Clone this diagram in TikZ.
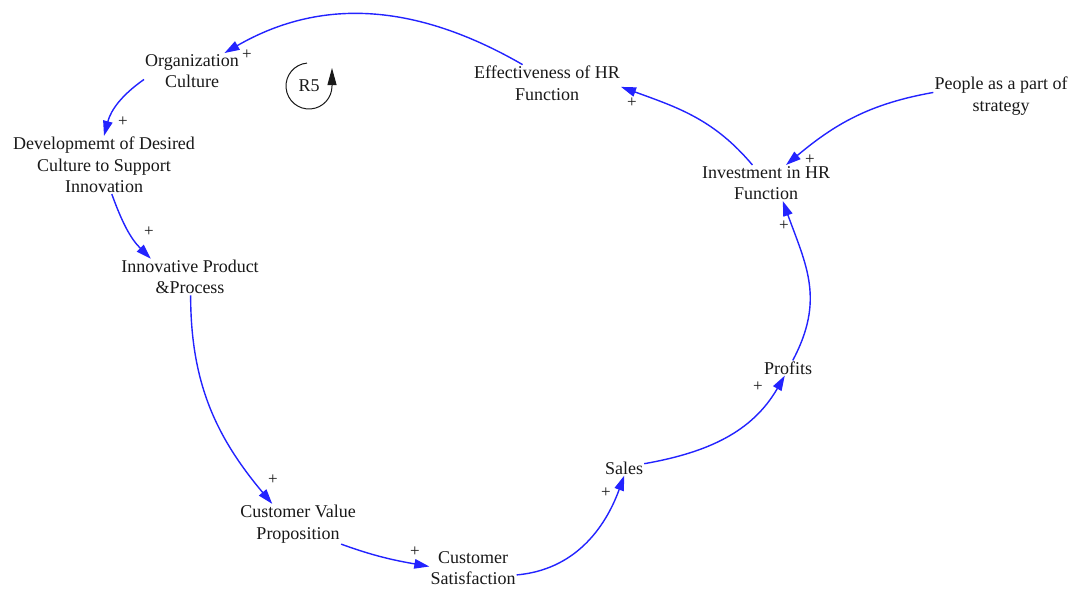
\documentclass[tikz,border=0pt]{standalone}
\usepackage{fontspec}
\setmainfont{Liberation Serif}
\usetikzlibrary{arrows.meta}
\definecolor{linkblue}{RGB}{35,35,255}
\definecolor{inkgray}{RGB}{25,25,25}
\begin{document}
\begin{tikzpicture}[x=1pt,y=1pt,
  var/.style={inner sep=1pt, align=center, text=inkgray,
              font=\fontsize{18}{21.5}\selectfont},
  link/.style={draw=linkblue, line width=1.4pt,
               -{Triangle[length=15pt,width=9.5pt]}},
  polarity/.style={inner sep=0pt, text=inkgray, font=\fontsize{17}{17}\selectfont}]
\useasboundingbox[fill=white] (0,0) rectangle (1081,-590);

% variables
\node[var] (org)   at (192,-71)  {Organization\\Culture};
\node[var] (dev)   at (104,-165) {Developmemt of Desired\\Culture to Support\\Innovation};
\node[var] (inn)   at (190,-277) {Innovative Product\\\&Process};
\node[var] (cvp)   at (298,-524) {Customer Value\\Proposition};
\node[var] (cs)    at (473,-568) {Customer\\Satisfaction};
\node[var] (sales) at (624,-468) {Sales};
\node[var] (prof)  at (788,-368) {Profits};
\node[var] (inv)   at (766,-183) {Investment in HR\\Function};
\node[var] (eff)   at (547,-83)  {Effectiveness of HR\\Function};
\node[var] (ppl)   at (1001,-96) {People as a part of\\strategy};

% causal links
\draw[link] (eff.143)   to[out=150,in=30]  (org.29);
\draw[link] (org.190)   to[out=215,in=75]  (dev.90);
\draw[link] (dev.285)   to[out=290,in=135] (inn.155);
\draw[link] (inn.272)   to[out=270,in=130] (cvp.142);
\draw[link] (cvp.335)   to[out=340,in=170] (cs.178);
\draw[link] (cs.351)    to[out=5,in=250]   (sales.272);
\draw[link] (sales.12)  to[out=10,in=240]  (prof.247);
\draw[link] (prof.58)   to[out=62,in=290,looseness=1.1] (inv.313);
\draw[link] (inv.127)   to[out=130,in=340] (eff.357);
\draw[link] (ppl.177)   to[out=190,in=40]  (inv.42);

% link polarities
\node[polarity] (p1)  at (247,-55)  {+};
\node[polarity] (p2)  at (123,-122) {+};
\node[polarity] (p3)  at (149,-232) {+};
\node[polarity] (p4)  at (273,-480) {+};
\node[polarity] (p5)  at (415,-552) {+};
\node[polarity] (p6)  at (606,-493) {+};
\node[polarity] (p7)  at (758,-387) {+};
\node[polarity] (p8)  at (784,-226) {+};
\node[polarity] (p9)  at (632,-103) {+};
\node[polarity] (p10) at (810,-160) {+};

% loop identifier
\node[var] (r5) at (309,-86) {R5};
\draw[draw=inkgray, line width=1pt, -{Triangle[length=17pt,width=9pt]}]
  ([shift={(95:23)}]r5.center) arc[start angle=95, end angle=360, radius=23]
  -- ++(0,18);
\end{tikzpicture}
\end{document}
